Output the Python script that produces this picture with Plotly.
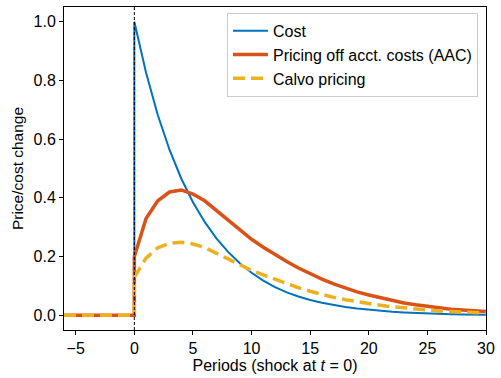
import plotly.graph_objects as go

# Periods: the duplicated 0 captures the jump at the shock
periods = [-6, -5, -4, -3, -2, -1, 0, 0, 1, 2, 3, 4, 5, 6, 7, 8, 9, 10, 11, 12, 13, 14, 15,
           16, 17, 18, 19, 20, 21, 22, 23, 24, 25, 26, 27, 28, 29, 30]

cost = [0, 0, 0, 0, 0, 0, 0, 1.0, 0.826, 0.682, 0.564, 0.466, 0.385, 0.318, 0.262, 0.216,
        0.177, 0.145, 0.118, 0.096, 0.078, 0.064, 0.052, 0.043, 0.035, 0.028, 0.023, 0.019,
        0.015, 0.012, 0.010, 0.008, 0.006, 0.005, 0.004, 0.003, 0.003, 0.002]

aac = [0, 0, 0, 0, 0, 0, 0, 0.20, 0.33, 0.39, 0.42, 0.427, 0.413, 0.39, 0.357, 0.322, 0.289,
       0.259, 0.232, 0.207, 0.183, 0.161, 0.141, 0.123, 0.107, 0.093, 0.080, 0.069, 0.059,
       0.050, 0.042, 0.036, 0.030, 0.025, 0.021, 0.018, 0.015, 0.013]

calvo = [0, 0, 0, 0, 0, 0, 0, 0.13, 0.195, 0.23, 0.245, 0.249, 0.243, 0.231, 0.213, 0.192,
         0.172, 0.153, 0.138, 0.123, 0.108, 0.094, 0.082, 0.071, 0.061, 0.053, 0.046, 0.04,
         0.034, 0.029, 0.025, 0.021, 0.018, 0.015, 0.013, 0.011, 0.009, 0.008]

names = ["Cost", "Pricing off acct. costs (AAC)", "Calvo pricing"]
x_ticks = [-5, 0, 5, 10, 15, 20, 25, 30]
y_ticks = [0.0, 0.2, 0.4, 0.6, 0.8, 1.0]

FONT = "Liberation Sans, Arial, Helvetica, sans-serif"
FS = 16

fig = go.Figure()
fig.add_trace(go.Scatter(x=periods, y=cost, mode="lines", name=names[0],
                         line=dict(color="#0072BD", width=2)))
fig.add_trace(go.Scatter(x=periods, y=aac, mode="lines", name=names[1],
                         line=dict(color="#D95319", width=3.5)))
fig.add_trace(go.Scatter(x=periods, y=calvo, mode="lines", name=names[2],
                         line=dict(color="#EDB120", width=3.5, dash="12px,6px")))

fig.add_shape(type="line", x0=0, x1=0, y0=0, y1=1, xref="x", yref="paper",
              line=dict(color="black", width=1, dash="3px,2px"), layer="above")

axis_common = dict(showline=True, linecolor="black", linewidth=1, mirror=True,
                   ticks="outside", ticklen=4, tickwidth=1, tickcolor="black",
                   showgrid=False, zeroline=False,
                   tickfont=dict(family=FONT, size=FS, color="black"))

fig.update_xaxes(range=[-6, 30], tickvals=x_ticks,
                 title=dict(text="Periods (shock at <i>t</i> = 0)",
                            font=dict(family=FONT, size=FS, color="black"), standoff=0),
                 **axis_common)
fig.update_yaxes(range=[-0.05, 1.05], tickvals=y_ticks, tickformat=".1f",
                 title=dict(text="Price/cost change",
                            font=dict(family=FONT, size=15.5, color="black"), standoff=6),
                 **axis_common)

fig.update_layout(
    width=501, height=378,
    margin=dict(l=64, r=11, t=6, b=48),
    paper_bgcolor="white", plot_bgcolor="white",
    font=dict(family=FONT, size=FS, color="black"),
    legend=dict(x=0.981, y=0.982, xanchor="right", yanchor="top",
                bgcolor="rgba(255,255,255,0.8)", bordercolor="#cccccc", borderwidth=1,
                font=dict(family=FONT, size=FS, color="black"), itemwidth=35),
    showlegend=True,
)

fig.write_html("out.html")
